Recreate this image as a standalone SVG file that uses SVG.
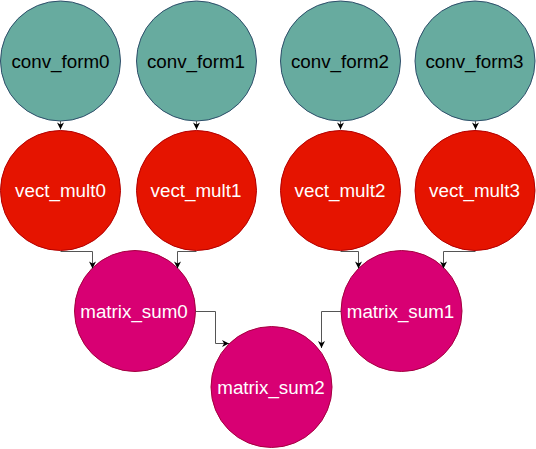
<svg xmlns="http://www.w3.org/2000/svg" width="536" height="449" viewBox="0 0 536 449">
<defs>
<marker id="arr" viewBox="0 0 10 10" refX="10" refY="5" markerWidth="8" markerHeight="7" markerUnits="userSpaceOnUse" orient="auto">
<path d="M0,0 L10,5 L0,10 L3,5 Z" fill="#000"/>
</marker>
<style>
.conv circle{fill:#67AB9F;stroke:#2F4F6B;stroke-width:1}
.vect circle{fill:#E51400;stroke:#B20000;stroke-width:1}
.msum circle{fill:#D80073;stroke:#A50040;stroke-width:1}
text{font-family:"Liberation Sans",Arial,sans-serif;font-size:18.8px;text-anchor:middle}
.conv text{fill:#000}
.vect text,.msum text{fill:#fff}
#edges path{fill:none;stroke:#555;stroke-width:1;marker-end:url(#arr)}
</style>
</defs>
<rect width="536" height="449" fill="#fff"/>
<g id="conv_form0" class="conv"><circle cx="60.5" cy="61" r="60"/><text x="60.5" y="67.5">conv_form0</text></g>
<g id="conv_form1" class="conv"><circle cx="196.5" cy="61" r="60"/><text x="196" y="67.5">conv_form1</text></g>
<g id="conv_form2" class="conv"><circle cx="340.5" cy="61" r="60"/><text x="340" y="67.5">conv_form2</text></g>
<g id="conv_form3" class="conv"><circle cx="475" cy="61" r="60"/><text x="474.5" y="67.5">conv_form3</text></g>
<g id="vect_mult0" class="vect"><circle cx="60.5" cy="190.5" r="60"/><text x="60.5" y="197">vect_mult0</text></g>
<g id="vect_mult1" class="vect"><circle cx="196.5" cy="190.5" r="60"/><text x="196" y="197">vect_mult1</text></g>
<g id="vect_mult2" class="vect"><circle cx="340.5" cy="190.5" r="60"/><text x="340" y="197">vect_mult2</text></g>
<g id="vect_mult3" class="vect"><circle cx="475" cy="190.5" r="60"/><text x="474.5" y="197">vect_mult3</text></g>
<g id="matrix_sum0" class="msum"><circle cx="135" cy="311" r="60.5"/><text x="134" y="317.5">matrix_sum0</text></g>
<g id="matrix_sum1" class="msum"><circle cx="401.5" cy="311" r="60.5"/><text x="400.5" y="317.5">matrix_sum1</text></g>
<g id="matrix_sum2" class="msum"><circle cx="271.5" cy="387" r="60.5"/><text x="271" y="393.5">matrix_sum2</text></g>
<g id="edges">
<path d="M60.5,121 V129.5"/>
<path d="M196.5,121 V129.5"/>
<path d="M340.5,121 V129.5"/>
<path d="M475.5,121 V129.5"/>
<path d="M60.5,251.5 H92.5 V268.5"/>
<path d="M196.5,251.5 H177.5 V268.5"/>
<path d="M340.5,251.5 H358.5 V268.5"/>
<path d="M475.5,251.5 H443.5 V268.5"/>
<path d="M195.5,311.5 H215.5 V343.5 H229"/>
<path d="M341,311.5 H321.5 V348"/>
</g>
</svg>
